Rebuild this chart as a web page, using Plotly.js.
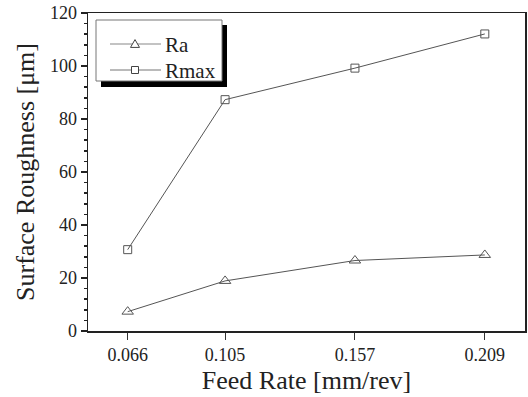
<!DOCTYPE html>
<html>
<head>
<meta charset="utf-8">
<script src="https://cdn.plot.ly/plotly-3.0.1.min.js"></script>
<style>html,body{margin:0;padding:0;background:#fff;}#chart{width:528px;height:397px;}</style>
</head>
<body>
<div id="chart"></div>
<script>
var feedRates = [0.066, 0.105, 0.157, 0.209];
var tickLabels = ["0.066", "0.105", "0.157", "0.209"];
var seriesNames = ["Ra", "Rmax"];
var raValues = [7.3, 18.9, 26.6, 28.7];
var rmaxValues = [30.7, 87.3, 99.2, 112.1];

var lineColor = '#555555';
var font = 'Liberation Serif';

var traces = [
  {x: feedRates, y: raValues, name: seriesNames[0], mode: 'lines+markers', type: 'scatter',
   line: {color: lineColor, width: 1},
   marker: {symbol: 'triangle-up-open', size: 10, color: lineColor, line: {width: 1}}},
  {x: feedRates, y: rmaxValues, name: seriesNames[1], mode: 'lines+markers', type: 'scatter',
   line: {color: lineColor, width: 1},
   marker: {symbol: 'square-open', size: 8, color: lineColor, line: {width: 1}}}
];

// pixel -> paper helpers (plot area: x 88..525, y 13..331)
var W = 437, H = 318;
function px(x){ return (x-88)/W; }
function py(y){ return (331-y)/H; }
function prect(x0,x1,y0,y1,fill,lc,lw){ return {type:'rect', xref:'paper', yref:'paper', x0:px(x0), x1:px(x1), y0:py(y1), y1:py(y0), fillcolor:fill, line:{color:lc, width:lw}, layer:'above'}; }
function pline(x0,x1,y,c){ return {type:'line', xref:'paper', yref:'paper', x0:px(x0), x1:px(x1), y0:py(y), y1:py(y), line:{color:c, width:1.2}, layer:'above'}; }
function ptri(cx,cy,s){ var h=s*0.87; return {type:'path', xref:'paper', yref:'paper',
  path:'M'+px(cx-s/2)+','+py(cy+h/2)+' L'+px(cx+s/2)+','+py(cy+h/2)+' L'+px(cx)+','+py(cy-h/2)+' Z',
  fillcolor:'#fff', line:{color:'#444', width:1}, layer:'above'}; }

var legendShapes = [
  prect(101, 227, 25, 87, '#000', '#000', 0),
  prect(96, 222, 20, 81, '#fff', '#777', 1),
  pline(110, 161, 44, '#888'),
  pline(110, 161, 70, '#777'),
  ptri(135, 43.5, 9),
  prect(131.5, 138.5, 66.5, 73.5, '#fff', '#444', 1)
];

var legendTexts = [
  {text: seriesNames[0], xref:'paper', yref:'paper', x: px(163), y: py(45), xanchor:'left', yanchor:'middle', showarrow:false, font:{family: font, size: 21, color:'#222'}},
  {text: seriesNames[1], xref:'paper', yref:'paper', x: px(163), y: py(71), xanchor:'left', yanchor:'middle', showarrow:false, font:{family: font, size: 21, color:'#222'}}
];

var layout = {
  width: 528, height: 397,
  margin: {l: 88, r: 3, t: 13, b: 66},
  paper_bgcolor: '#fff', plot_bgcolor: '#fff',
  font: {family: font, color: '#222', size: 18},
  showlegend: false,
  xaxis: {range: [0.0501, 0.2251], tickmode: 'array', tickvals: feedRates, ticktext: tickLabels,
    ticks: 'outside', ticklen: 7, tickcolor: '#333', tickwidth: 1,
    showline: true, linecolor: '#222', linewidth: 1.5, mirror: true,
    showgrid: false, zeroline: false,
    tickfont: {family: font, size: 18, color: '#222'},
    title: {text: 'Feed Rate [mm/rev]', font: {family: font, size: 26, color: '#222'}, standoff: 6}},
  yaxis: {range: [0, 120], dtick: 20, tick0: 0,
    ticks: 'outside', ticklen: 6, tickcolor: '#222', tickwidth: 1.5,
    minor: {dtick: 4, ticks: 'outside', ticklen: 3, tickcolor: '#222', tickwidth: 1.5, showgrid: false},
    showline: true, linecolor: '#222', linewidth: 1.5, mirror: true,
    showgrid: false, zeroline: false,
    tickfont: {family: font, size: 18, color: '#222'},
    title: {text: 'Surface Roughness [μm]', font: {family: font, size: 26, color: '#222'}, standoff: 8}},
  shapes: legendShapes,
  annotations: legendTexts
};

Plotly.newPlot('chart', traces, layout, {displayModeBar: false, staticPlot: true});
</script>
</body>
</html>
